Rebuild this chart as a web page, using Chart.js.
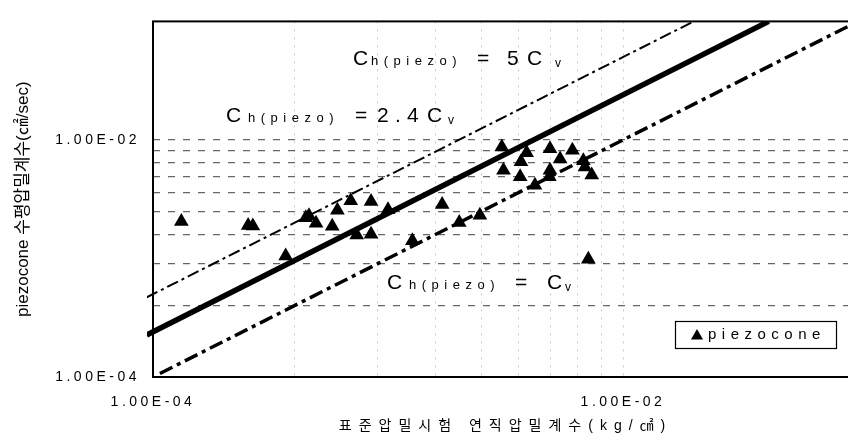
<!DOCTYPE html>
<html>
<head>
<meta charset="utf-8">
<script src="https://cdn.jsdelivr.net/npm/chart.js@4/dist/chart.umd.min.js"></script>
<style>
  html, body { margin: 0; padding: 0; background: #fff; overflow: hidden; width: 848px; height: 441px; }
  canvas { display: block; }
</style>
</head>
<body>
<canvas id="c" width="870" height="441"></canvas>
<script>
// ---- data ----
const seriesName = 'piezocone';
const cvX = [1.32e-4, 2.54e-4, 2.66e-4, 3.67e-4, 4.47e-4, 4.61e-4, 4.94e-4, 5.79e-4, 6.09e-4, 6.94e-4,
             8.47e-4, 1.00e-3, 7.36e-4, 8.47e-4, 1.70e-3, 1.27e-3, 2.01e-3, 2.46e-3, 3.05e-3, 3.89e-3,
             3.68e-3, 3.10e-3, 3.65e-3, 4.89e-3, 6.09e-3, 5.40e-3, 4.89e-3, 4.86e-3, 4.22e-3, 6.78e-3,
             6.89e-3, 7.36e-3, 7.12e-3];
const chY = [2.05e-3, 1.90e-3, 1.88e-3, 1.05e-3, 2.21e-3, 2.29e-3, 1.98e-3, 1.87e-3, 2.55e-3, 3.07e-3,
             3.03e-3, 2.58e-3, 1.58e-3, 1.60e-3, 2.85e-3, 1.41e-3, 2.01e-3, 2.32e-3, 8.73e-3, 7.80e-3,
             6.55e-3, 5.54e-3, 4.90e-3, 8.41e-3, 8.19e-3, 6.89e-3, 5.54e-3, 4.90e-3, 4.14e-3, 6.67e-3,
             5.90e-3, 5.05e-3, 9.86e-4];

// reference lines Ch = 5Cv, Ch = 2.4Cv, Ch = Cv (end points)
const line5X  = [9.4e-5, 0.02];
const line5Y  = [4.7e-4, 0.1];
const line24X = [9.4e-5, 0.0417];
const line24Y = [2.26e-4, 0.1];
const line1X  = [1.07e-4, 0.1];
const line1Y  = [1.07e-4, 0.1];

// axis ticks (grid positions) and their labels
const xTickValues = [1e-4, 4e-4, 9e-4, 1.6e-3, 2.5e-3, 3.6e-3, 4.9e-3, 6.4e-3, 8.1e-3, 1e-2];
const xTickLabels = ['1.00E-04', '', '', '', '', '', '', '', '', '1.00E-02'];
const yTickValues = [1e-4, 4e-4, 9e-4, 1.6e-3, 2.5e-3, 3.6e-3, 4.9e-3, 6.4e-3, 8.1e-3, 1e-2];
const yTickLabels = ['1.00E-04', '', '', '', '', '', '', '', '', '1.00E-02'];

const xTitle = '표준압밀시험 연직압밀계수(kg/㎠)';
const yTitle = 'piezocone 수평압밀계수(㎠/sec)';

const FONT = '"Liberation Sans", Arial, "Noto Sans CJK KR", sans-serif';

const pts = (xs, ys) => xs.map((x, i) => ({ x: x, y: ys[i] }));

// per-scale letter spacing
const spacingPlugin = {
  id: 'spacing',
  beforeDraw(chart) {
    const patch = (scale, method, sp) => {
      if (!scale || scale['_p_' + method]) return;
      const orig = scale[method];
      scale[method] = function (...a) {
        const c = this.ctx; c.save(); c.letterSpacing = sp; orig.apply(this, a); c.restore();
      };
      scale['_p_' + method] = true;
    };
    patch(chart.scales.x, 'drawLabels', '3.5px');
    patch(chart.scales.y, 'drawLabels', '3.5px');
    patch(chart.scales.x, 'drawTitle', '7px');
    patch(chart.scales.y, 'drawTitle', '0px');
  }
};

// frame around plot area
const framePlugin = {
  id: 'frame',
  beforeDatasetsDraw(chart) {
    const { ctx, chartArea: a } = chart;
    ctx.save();
    ctx.strokeStyle = '#000';
    ctx.lineWidth = 2;
    ctx.strokeRect(a.left, a.top, a.right - a.left, a.bottom - a.top);
    ctx.restore();
  }
};

// equation labels: [text, font size, x offset, y offset, letter spacing]
const equations = [
  { x: 353, y: 65, parts: [['C', 21, 0, 0, 0], ['h(piezo)', 13, 18, 0, 5.5], ['=', 21, 124, 0, 0], ['5', 21, 154, 0, 0], ['C', 21, 174, 0, 0], ['v', 12, 202, 2, 0]] },
  { x: 226, y: 122, parts: [['C', 21, 0, 0, 0], ['h(piezo)', 13, 22, 0, 5.5], ['=', 21, 129, 0, 0], ['2', 21, 151, 0, 0], ['.', 21, 169, 0, 0], ['4', 21, 181, 0, 0], ['C', 21, 201, 0, 0], ['v', 12, 222, 2, 0]] },
  { x: 387, y: 289, parts: [['C', 21, 0, 0, 0], ['h(piezo)', 13, 22, 0, 5.5], ['=', 21, 128, 0, 0], ['C', 21, 160, 0, 0], ['v', 12, 178, 2, 0]] }
];
const equationPlugin = {
  id: 'equations',
  afterDatasetsDraw(chart) {
    const ctx = chart.ctx;
    ctx.save();
    ctx.fillStyle = '#000';
    ctx.textBaseline = 'alphabetic';
    ctx.textAlign = 'left';
    equations.forEach(eq => {
      eq.parts.forEach(([t, size, dx, dy, sp]) => {
        ctx.font = size + 'px ' + FONT;
        ctx.letterSpacing = sp + 'px';
        ctx.fillText(t, eq.x + dx, eq.y + dy);
      });
    });
    ctx.restore();
  }
};

// legend box
const legendPlugin = {
  id: 'customLegend',
  afterDatasetsDraw(chart) {
    const ctx = chart.ctx;
    const bx = 675, by = 321, bw = 161, bh = 27;
    ctx.save();
    ctx.fillStyle = '#fff';
    ctx.fillRect(bx, by, bw, bh);
    ctx.strokeStyle = '#000';
    ctx.lineWidth = 1.2;
    ctx.strokeRect(bx + 0.5, by + 0.5, bw, bh);
    const mx = 697, my = 336, r = 7;
    ctx.beginPath();
    ctx.moveTo(mx, my - r);
    ctx.lineTo(mx + r * 0.866, my + r * 0.5);
    ctx.lineTo(mx - r * 0.866, my + r * 0.5);
    ctx.closePath();
    ctx.fillStyle = '#000';
    ctx.fill();
    ctx.font = '15px ' + FONT;
    ctx.letterSpacing = '5.5px';
    ctx.textBaseline = 'middle';
    ctx.fillText(chart.data.datasets[0].label, 708, 335);
    ctx.restore();
  }
};

new Chart(document.getElementById('c'), {
  type: 'scatter',
  data: {
    datasets: [
      {
        label: seriesName,
        data: pts(cvX, chY),
        pointStyle: 'triangle',
        pointRadius: 8.5,
        pointBackgroundColor: '#000',
        pointBorderColor: '#000',
        pointBorderWidth: 0,
        order: 0
      },
      {
        label: 'Ch=5Cv', data: pts(line5X, line5Y), showLine: true, pointRadius: 0,
        borderColor: '#000', borderWidth: 2, borderDash: [12, 4, 3, 4], clip: { left: 6, top: 0, right: 0, bottom: 0 }, order: 1
      },
      {
        label: 'Ch=2.4Cv', data: pts(line24X, line24Y), showLine: true, pointRadius: 0,
        borderColor: '#000', borderWidth: 5.5, clip: { left: 6, top: 0, right: 0, bottom: 0 }, order: 1
      },
      {
        label: 'Ch=Cv', data: pts(line1X, line1Y), showLine: true, pointRadius: 0,
        borderColor: '#000', borderWidth: 3.5, borderDash: [14, 5, 4, 5], order: 1
      }
    ]
  },
  options: {
    responsive: false,
    animation: false,
    devicePixelRatio: 1,
    layout: { padding: { left: 0, top: 7, right: 12, bottom: 0 } },
    plugins: { legend: { display: false }, tooltip: { enabled: false } },
    scales: {
      x: {
        type: 'logarithmic',
        min: 1e-4, max: 0.1,
        afterBuildTicks: s => { s.ticks = xTickValues.map(v => ({ value: v })); },
        afterFit: s => { s.height = 64; },
        ticks: {
          autoSkip: false, maxRotation: 0, padding: 17, color: '#000',
          font: { family: FONT, size: 14 },
          callback: (v, i) => xTickLabels[i]
        },
        grid: {
          drawTicks: false,
          color: ctx => (ctx.index === 0 ? 'rgba(0,0,0,0)' : 'rgba(0,0,0,0.22)'),
          lineWidth: 1
        },
        border: { display: false, dash: [2, 6] },
        title: {
          display: true, text: xTitle, color: '#000',
          font: { family: FONT, size: 14 }, padding: { top: 0, bottom: 6 }
        }
      },
      y: {
        type: 'logarithmic',
        min: 1e-4, max: 0.1,
        afterBuildTicks: s => { s.ticks = yTickValues.map(v => ({ value: v })); },
        afterFit: s => { s.width = 153; },
        ticks: {
          autoSkip: false, padding: 13, color: '#000',
          font: { family: FONT, size: 14 },
          callback: (v, i) => yTickLabels[i]
        },
        grid: {
          drawTicks: false,
          color: ctx => (ctx.index === 0 ? 'rgba(0,0,0,0)' : 'rgba(0,0,0,0.6)'),
          lineWidth: 1.3
        },
        border: { display: false, dash: [7, 8] },
        title: {
          display: true, text: yTitle, color: '#000',
          font: { family: FONT, size: 17 }, padding: { top: 13, bottom: 0 }
        }
      }
    }
  },
  plugins: [spacingPlugin, framePlugin, equationPlugin, legendPlugin]
});
</script>
</body>
</html>
